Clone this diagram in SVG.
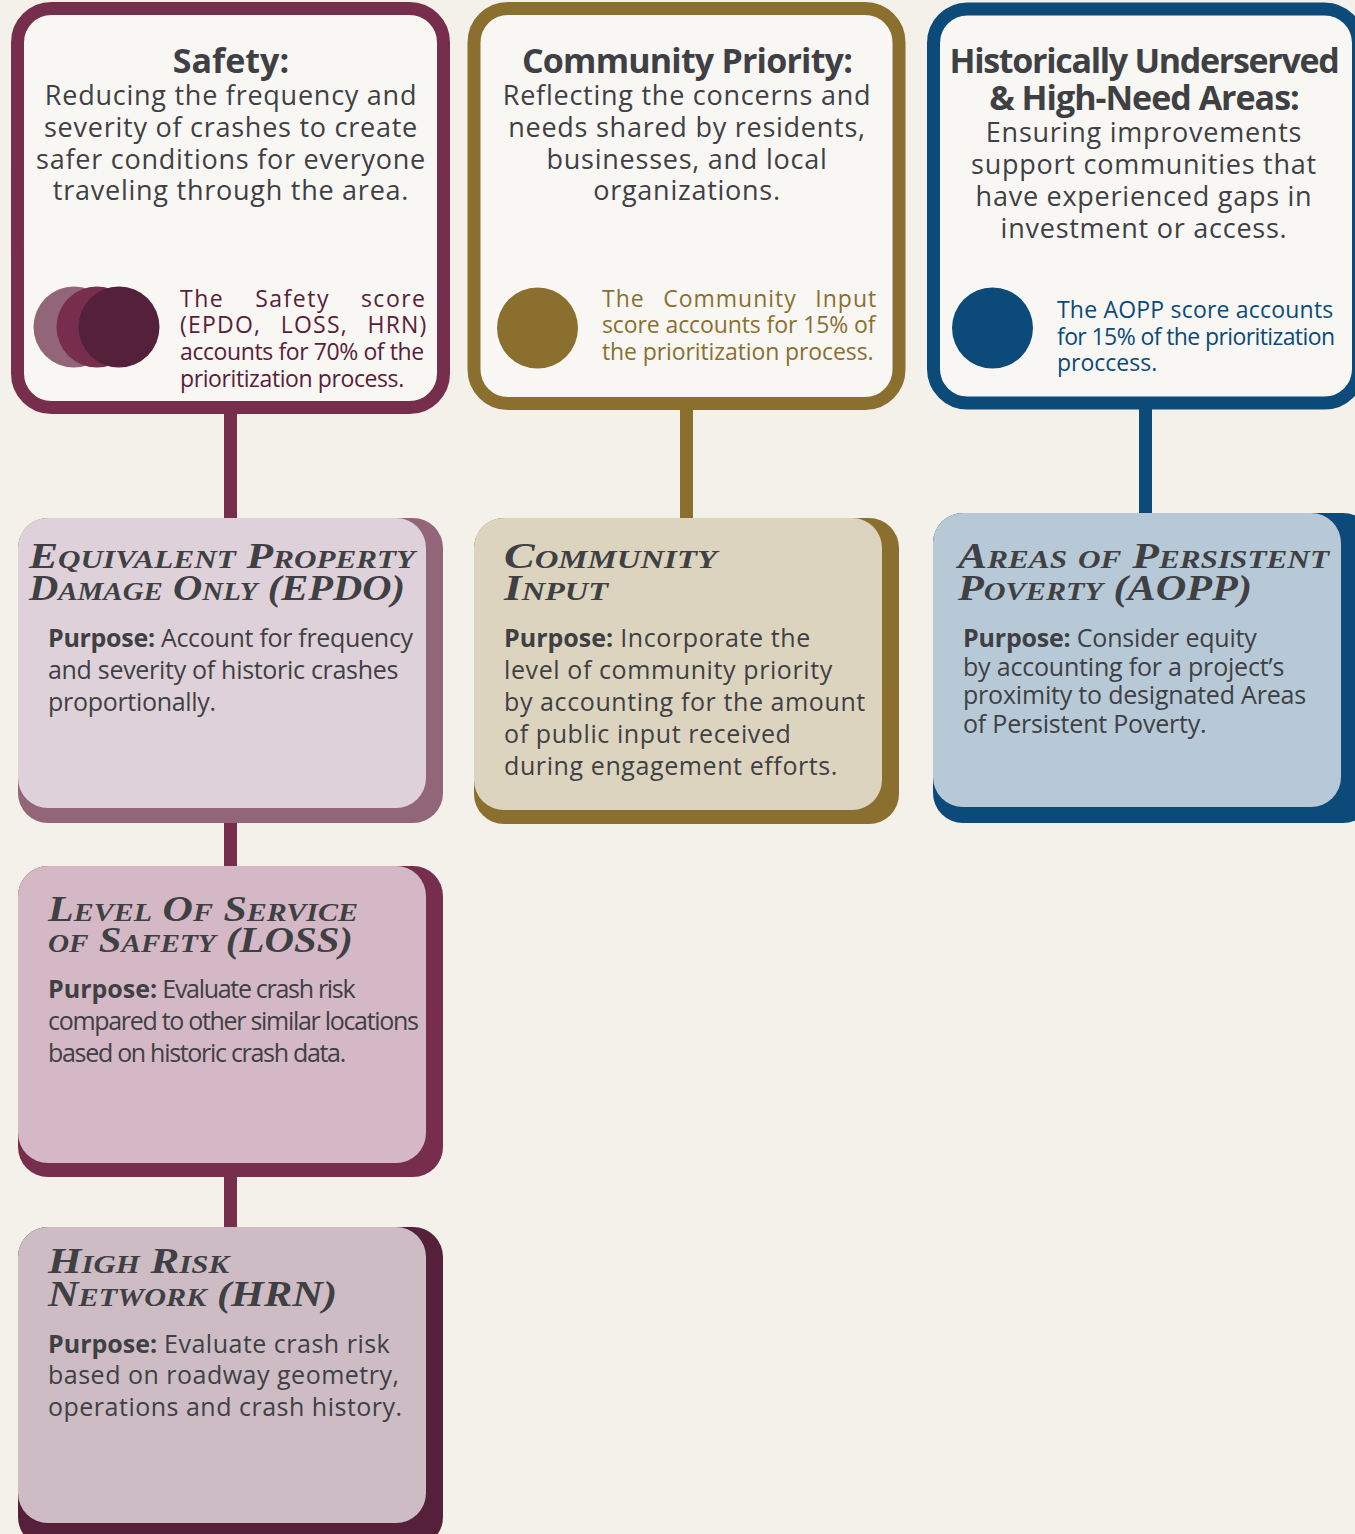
<svg xmlns="http://www.w3.org/2000/svg" width="1355" height="1534" viewBox="0 0 1355 1534">
<style>
.bg{fill:#f4f0ea}
.card{fill:#f8f7f4;stroke-width:13}
.hd{font-family:"Open Sans","Liberation Sans",sans-serif;font-weight:700;font-size:34px;fill:#3f4044;text-anchor:middle}
.hb{font-family:"Open Sans","Liberation Sans",sans-serif;font-size:27px;fill:#3f4044;text-anchor:middle;letter-spacing:0.75px}
.note{font-family:"Open Sans","Liberation Sans",sans-serif;font-size:23px}
.tt{font-family:"Liberation Serif","DejaVu Serif",serif;font-weight:700;font-style:italic;font-variant:small-caps;font-size:35px;fill:#3f4044}
.pp{font-family:"Open Sans","Liberation Sans",sans-serif;font-size:25px;fill:#3f4044}
.b{font-weight:700}
.conn{stroke-width:13;fill:none}
</style>
<rect class="bg" x="0" y="0" width="1355" height="1534"/>

<g id="connectors">
<line class="conn" stroke="#762e4c" x1="230.5" y1="405" x2="230.5" y2="525"/>
<line class="conn" stroke="#762e4c" x1="230.5" y1="815" x2="230.5" y2="870"/>
<line class="conn" stroke="#762e4c" x1="230.5" y1="1170" x2="230.5" y2="1230"/>
<line class="conn" stroke="#8b6f2f" x1="686.5" y1="400" x2="686.5" y2="525"/>
<line class="conn" stroke="#0c4a7a" x1="1145.5" y1="400" x2="1145.5" y2="520"/>
</g>

<g id="safety">
<rect class="card" stroke="#762e4c" x="17.5" y="8.5" width="426" height="399" rx="34"/>
<text class="hd" x="231" y="73">Safety:</text>
<text class="hb" x="231" y="105">Reducing the frequency and</text>
<text class="hb" x="231" y="137">severity of crashes to create</text>
<text class="hb" x="231" y="169">safer conditions for everyone</text>
<text class="hb" x="231" y="200">traveling through the area.</text>
<circle cx="74" cy="327" r="40.5" fill="#936579"/>
<circle cx="97" cy="327" r="40.5" fill="#762e4c"/>
<circle cx="119" cy="327" r="40.5" fill="#55213a"/>
<g class="note" fill="#5a2038">
<text x="180" y="307" letter-spacing="1.5" word-spacing="23.5">The Safety score</text>
<text x="180" y="333" letter-spacing="1.2" word-spacing="12.5">(EPDO, LOSS, HRN)</text>
<text x="180" y="360" letter-spacing="-0.4">accounts for 70% of the</text>
<text x="180" y="387" letter-spacing="-0.4">prioritization process.</text>
</g>
</g>

<g id="community-priority">
<rect class="card" stroke="#8b6f2f" x="474" y="8.5" width="425" height="395" rx="34"/>
<text class="hd" x="687" y="73" letter-spacing="-0.8">Community Priority:</text>
<text class="hb" x="687" y="105">Reflecting the concerns and</text>
<text class="hb" x="687" y="137">needs shared by residents,</text>
<text class="hb" x="687" y="169">businesses, and local</text>
<text class="hb" x="687" y="200">organizations.</text>
<circle cx="537.5" cy="328" r="40.5" fill="#8b6f2f"/>
<g class="note" fill="#8b6f2f">
<text x="602" y="307" letter-spacing="1" word-spacing="11.5">The Community Input</text>
<text x="602" y="333" letter-spacing="-0.1">score accounts for 15% of</text>
<text x="602" y="360" letter-spacing="-0.1">the prioritization process.</text>
</g>
</g>

<g id="historically-underserved">
<rect class="card" stroke="#0c4a7a" x="933.5" y="9" width="425" height="394" rx="34"/>
<text class="hd" x="1144" y="73" letter-spacing="-1.3">Historically Underserved</text>
<text class="hd" x="1144" y="110" letter-spacing="-1">&amp; High-Need Areas:</text>
<text class="hb" x="1144" y="142">Ensuring improvements</text>
<text class="hb" x="1144" y="174">support communities that</text>
<text class="hb" x="1144" y="206">have experienced gaps in</text>
<text class="hb" x="1144" y="238">investment or access.</text>
<circle cx="992.5" cy="328" r="40.5" fill="#0c4a7a"/>
<g class="note" fill="#0c4a7a">
<text x="1057" y="318" letter-spacing="0.2">The AOPP score accounts</text>
<text x="1057" y="345" letter-spacing="-0.6">for 15% of the prioritization</text>
<text x="1057" y="371">proccess.</text>
</g>
</g>

<g id="epdo">
<rect x="18" y="518" width="425" height="305" rx="30" fill="#936579"/>
<rect x="18" y="518" width="408" height="290" rx="30" fill="#dfd1d9"/>
<text class="tt" x="29" y="568" textLength="386" lengthAdjust="spacingAndGlyphs">Equivalent Property</text>
<text class="tt" x="29" y="600" textLength="376" lengthAdjust="spacingAndGlyphs">Damage Only (EPDO)</text>
<g class="pp" letter-spacing="-0.3">
<text x="48" y="647"><tspan class="b">Purpose:</tspan> Account for frequency</text>
<text x="48" y="679">and severity of historic crashes</text>
<text x="48" y="711">proportionally.</text>
</g>
</g>

<g id="community-input">
<rect x="474" y="518" width="425" height="306" rx="30" fill="#8b6f2f"/>
<rect x="474" y="518" width="408" height="292" rx="30" fill="#ddd4bf"/>
<text class="tt" x="504" y="568" textLength="213" lengthAdjust="spacingAndGlyphs">Community</text>
<text class="tt" x="504" y="600" textLength="104" lengthAdjust="spacingAndGlyphs">Input</text>
<g class="pp" letter-spacing="0.6">
<text x="504" y="647"><tspan class="b" letter-spacing="0">Purpose:</tspan> Incorporate the</text>
<text x="504" y="679">level of community priority</text>
<text x="504" y="711">by accounting for the amount</text>
<text x="504" y="743">of public input received</text>
<text x="504" y="775">during engagement efforts.</text>
</g>
</g>

<g id="aopp">
<rect x="933" y="513" width="440" height="310" rx="30" fill="#0c4a7a"/>
<rect x="933" y="513" width="408" height="294" rx="30" fill="#b7c9d6"/>
<text class="tt" x="958" y="568" textLength="371" lengthAdjust="spacingAndGlyphs">Areas of Persistent</text>
<text class="tt" x="958" y="600" textLength="294" lengthAdjust="spacingAndGlyphs">Poverty (AOPP)</text>
<g class="pp" font-size="24" letter-spacing="-0.2">
<text x="963" y="647"><tspan class="b">Purpose:</tspan> Consider equity</text>
<text x="963" y="676">by accounting for a project’s</text>
<text x="963" y="704">proximity to designated Areas</text>
<text x="963" y="733">of Persistent Poverty.</text>
</g>
</g>

<g id="loss">
<rect x="18" y="866" width="425" height="311" rx="30" fill="#762e4c"/>
<rect x="18" y="866" width="408" height="297" rx="30" fill="#d4b8c5"/>
<text class="tt" x="48" y="921" textLength="310" lengthAdjust="spacingAndGlyphs">Level Of Service</text>
<text class="tt" x="48" y="952" textLength="305" lengthAdjust="spacingAndGlyphs">of Safety (LOSS)</text>
<g class="pp" letter-spacing="-1.3">
<text x="48" y="998"><tspan class="b" letter-spacing="0">Purpose:</tspan> Evaluate crash risk</text>
<text x="48" y="1030">compared to other similar locations</text>
<text x="48" y="1062">based on historic crash data.</text>
</g>
</g>

<g id="hrn">
<rect x="18" y="1227" width="425" height="320" rx="30" fill="#55213a"/>
<rect x="18" y="1227" width="408" height="296" rx="30" fill="#cdbcc4"/>
<text class="tt" x="48" y="1273" textLength="181" lengthAdjust="spacingAndGlyphs">High Risk</text>
<text class="tt" x="48" y="1306" textLength="289" lengthAdjust="spacingAndGlyphs">Network (HRN)</text>
<g class="pp" letter-spacing="0.5">
<text x="48" y="1353"><tspan class="b" letter-spacing="0">Purpose:</tspan> Evaluate crash risk</text>
<text x="48" y="1384">based on roadway geometry,</text>
<text x="48" y="1416">operations and crash history.</text>
</g>
</g>
</svg>
